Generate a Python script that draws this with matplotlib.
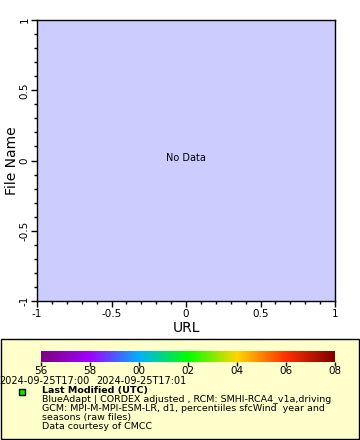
import matplotlib
matplotlib.use("Agg")
import matplotlib.pyplot as plt
from matplotlib.colors import LinearSegmentedColormap
from matplotlib.ticker import MultipleLocator
from matplotlib.patches import Rectangle
import numpy as np

# Dane
x_label = "URL"
y_label = "File Name"
x_range = [-1, 1]
y_range = [-1, 1]
major_ticks = [-1, -0.5, 0, 0.5, 1]
tick_labels = ["-1", "-0.5", "0", "0.5", "1"]
cbar_labels = ["56", "58", "00", "02", "04", "06", "08"]
cbar_colors = ["#800080", "#a000ff", "#00b0ff", "#00ff00", "#ffd700", "#ff3000", "#800000"]
time_labels = ["2024-09-25T17:00", "2024-09-25T17:01"]
legend_title = "Last Modified (UTC)"
legend_lines = [
    "BlueAdapt | CORDEX adjusted , RCM: SMHI-RCA4_v1a,driving",
    "GCM: MPI-M-MPI-ESM-LR, d1, percentiiles sfcWind  year and",
    "seasons (raw files)",
    "Data courtesy of CMCC",
]

W, H = 360, 440
fig = plt.figure(figsize=(W / 100, H / 100), dpi=100)
fig.patch.set_facecolor("white")

def fx(px):
    return px / W

def fy(py):
    return 1 - py / H

# Główny wykres
ax = fig.add_axes([fx(37), fy(301), fx(335) - fx(37), fy(20) - fy(301)])
ax.set_facecolor("#ccccff")
ax.set_xlim(x_range)
ax.set_ylim(y_range)
ax.set_xticks(major_ticks)
ax.set_xticklabels(tick_labels)
ax.set_yticks(major_ticks)
ax.set_yticklabels(tick_labels, rotation=90, va="center")
ax.xaxis.set_minor_locator(MultipleLocator(0.1))
ax.yaxis.set_minor_locator(MultipleLocator(0.1))
ax.tick_params(which="major", length=4, width=1, labelsize=7.5, pad=1.5)
ax.tick_params(which="minor", length=2, width=1)
for s in ax.spines.values():
    s.set_linewidth(1)
ax.set_xlabel(x_label, fontsize=10, labelpad=2)
ax.set_ylabel(y_label, fontsize=10, labelpad=0)
ax.text(0, 0.02, "No Data", ha="center", va="center", fontsize=7)

# Panel legendy
fig.patches.append(Rectangle((fx(0.5), fy(438.5)), fx(359) - fx(0.5), fy(339) - fy(438.5),
                             transform=fig.transFigure, facecolor="#ffffcc",
                             edgecolor="black", linewidth=1, zorder=-5))

cax = fig.add_axes([fx(41), fy(362), fx(335) - fx(41), fy(351) - fy(362)])
cax.set_zorder(5)
cmap = LinearSegmentedColormap.from_list("cb", cbar_colors)
grad = np.linspace(0, 1, 256).reshape(1, -1)
cax.imshow(grad, aspect="auto", cmap=cmap, extent=[0, 1, 0, 1])
cax.set_xlim(0, 1)
cax.set_yticks([])
cax.set_xticks(np.linspace(0, 1, len(cbar_labels)))
cax.set_xticklabels(cbar_labels)
cax.tick_params(axis="x", length=3, width=1, labelsize=7.5, pad=0)
for s in cax.spines.values():
    s.set_visible(False)

fig.text(fx(-1), fy(380.5), time_labels[0], fontsize=7, va="center", ha="left")
fig.text(fx(96), fy(380.5), time_labels[1], fontsize=7, va="center", ha="left")

fig.patches.append(Rectangle((fx(19), fy(395)), fx(6), fy(389) - fy(395),
                             transform=fig.transFigure, facecolor="#00ee00",
                             edgecolor="black", linewidth=1, zorder=2))
fig.text(fx(42), fy(390), legend_title, fontsize=6.8, fontweight="bold", va="center")
for i, line in enumerate(legend_lines):
    fig.text(fx(42), fy(399 + 9 * i), line, fontsize=6.8, va="center")

fig.savefig("out.png", dpi=100)
